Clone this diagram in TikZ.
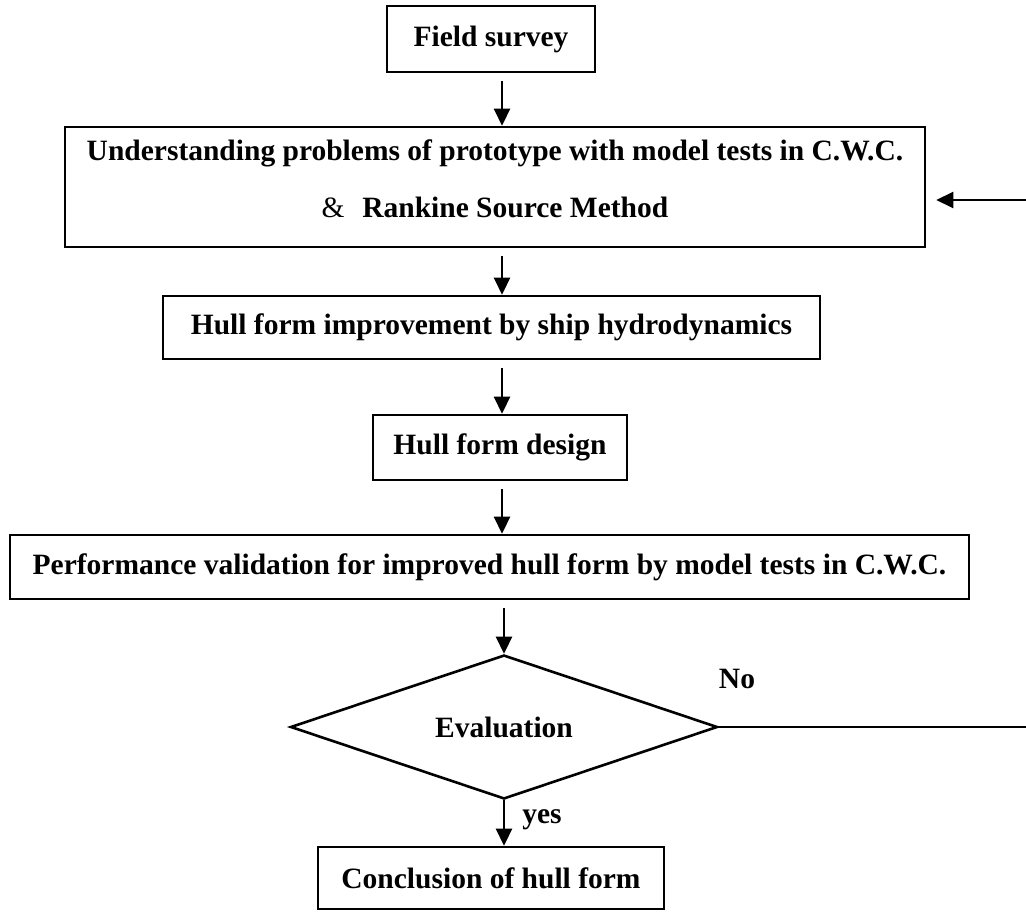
\documentclass[tikz,border=0pt]{standalone}
\usepackage{fontspec}
\setmainfont{Liberation Serif}
\usetikzlibrary{arrows.meta,shapes.geometric}
\begin{document}
\begin{tikzpicture}[x=1pt,y=-1pt,
  every node/.style={font=\fontsize{29.5}{36}\selectfont\bfseries},
  stepbox/.style={draw, rectangle, line width=2.6pt, inner sep=0pt},
  decision/.style={draw, diamond, aspect=3, line width=2.6pt, inner sep=0pt,
    minimum width=427pt, minimum height=144pt},
  flow/.style={line width=2.6pt, -{Triangle[width=16pt,length=17pt]}},
  plain/.style={line width=2.6pt},
]
\useasboundingbox (0,0) rectangle (1026,912);

% process boxes
\node[stepbox, minimum width=208pt, minimum height=66pt] (fs) at (491,39) {Field survey};
\node[stepbox, minimum width=860pt, minimum height=120pt] (box2) at (495,187) {};
\node[align=center, inner sep=0pt] (box2text) at (495,179)
  {Understanding problems of prototype with model tests in C.W.C.\\[21pt]
   {\mdseries\&}\hspace{0.6em}Rankine Source Method};
\node[stepbox, minimum width=657pt, minimum height=63pt] (box3) at (491.5,327.5)
  {Hull form improvement by ship hydrodynamics};
\node[stepbox, minimum width=254pt, minimum height=65pt] (box4) at (500,447.5)
  {Hull form design};
\node[stepbox, minimum width=959pt, minimum height=64pt] (box5) at (489.5,567)
  {Performance validation for improved hull form by model tests in C.W.C.};
\node[decision] (eval) at (504,727) {Evaluation};
\node[stepbox, minimum width=346pt, minimum height=62pt] (concl) at (491,878)
  {Conclusion of hull form};

% labels on the decision branches
\node (no) at (737,679) {No};
\node (yes) at (542,820) {yes};

% main flow
\coordinate (ax) at (502,0);
\draw[flow, shorten <=8pt] (fs.south -| ax) -- (box2.north -| ax);
\draw[flow, shorten <=8pt] (box2.south -| ax) -- (box3.north -| ax);
\draw[flow, shorten <=8pt] (box3.south -| ax) -- (box4.north -| ax);
\draw[flow, shorten <=8pt] (box4.south -| ax) -- (box5.north -| ax);
\draw[flow, shorten <=8pt] (box5.south -| eval.north) -- (eval.north);
\draw[flow] (eval.south) -- (concl.north -| eval.south);

% feedback branch
\coordinate (fbout) at (1026,727);
\coordinate (fbin) at (1026,200);
\draw[plain] (eval.east) -- (fbout);
\draw[flow, shorten >=10pt] (fbin) -- (box2.east |- fbin);
\end{tikzpicture}
\end{document}
